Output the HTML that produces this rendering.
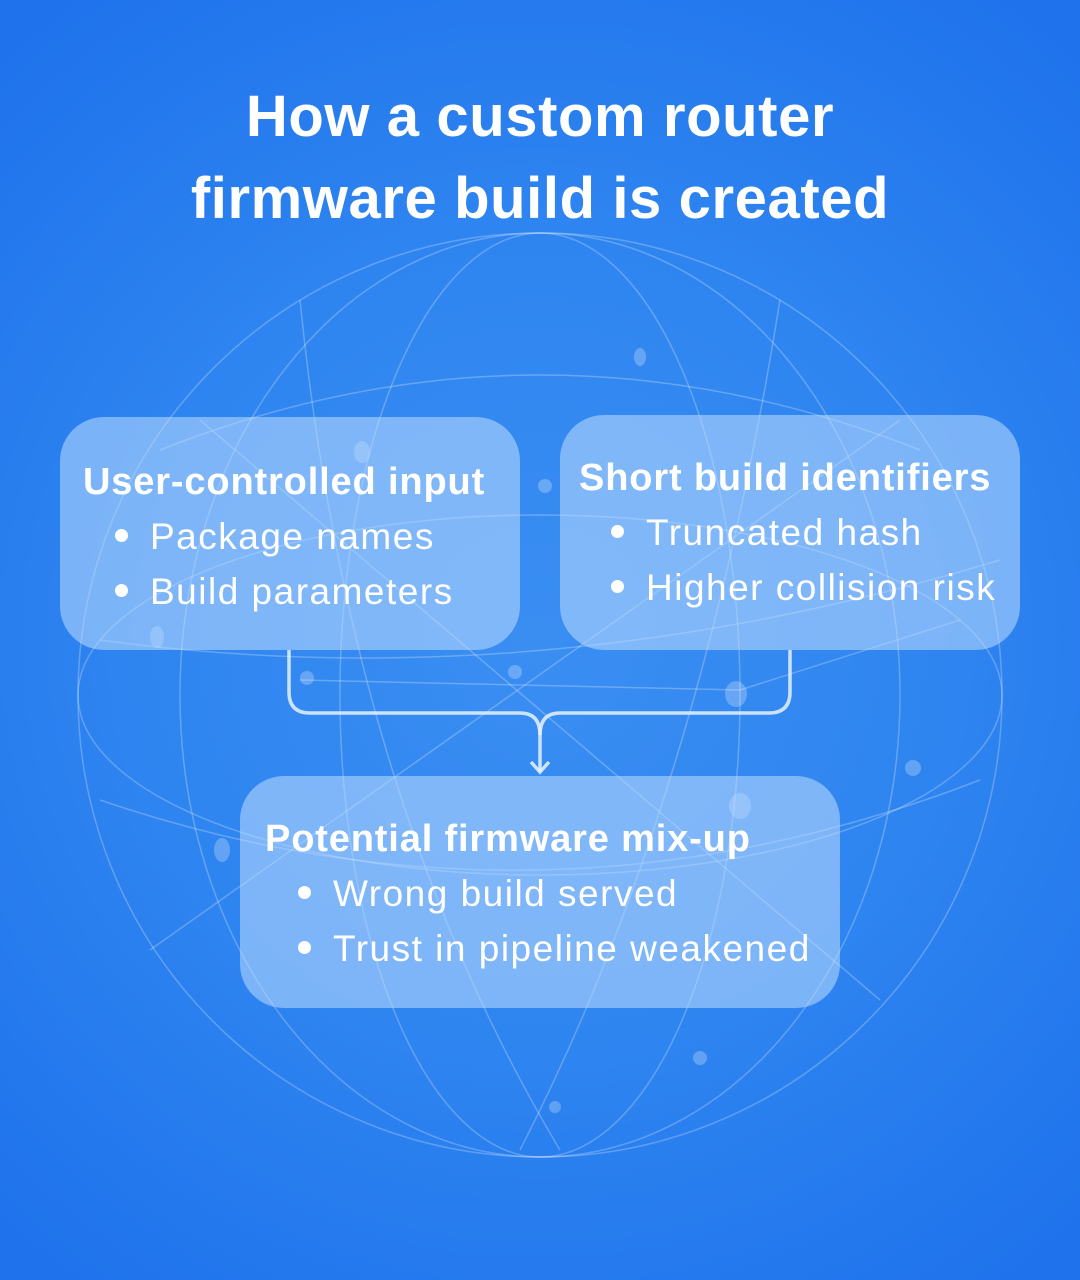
<!DOCTYPE html>
<html><head><meta charset="utf-8"><style>
html,body{margin:0;padding:0}
body{width:1080px;height:1280px;position:relative;overflow:hidden;font-family:"Liberation Sans",sans-serif;
background:radial-gradient(circle at 540px 640px,#3a8ef2 0,#2f85f0 400px,#1f72ec 800px);}
h1{position:absolute;top:76px;left:0;width:1080px;margin:0;text-align:center;color:#fff;font-size:58px;letter-spacing:0.6px;line-height:82px;font-weight:bold}
.box{position:absolute;background:rgba(190,220,255,0.55);border-radius:44px;color:#fff}
.box .t{position:absolute;font-weight:bold;font-size:38px;letter-spacing:0.85px;white-space:nowrap}
.box ul{position:absolute;margin:0;padding:0;list-style:none;font-size:37px;letter-spacing:1.5px;line-height:55px;white-space:nowrap}
.box li:before{content:"";display:inline-block;width:13px;height:13px;border-radius:50%;background:#fff;margin-right:22px;vertical-align:middle;position:relative;top:-4px}
svg{position:absolute;left:0;top:0}
</style></head><body>
<svg width="1080" height="1280">
<g fill="none" stroke="rgba(255,255,255,0.25)" stroke-width="1.5">
<circle cx="540" cy="695" r="462"/>
<ellipse cx="540" cy="695" rx="462" ry="180"/>
<ellipse cx="540" cy="695" rx="200" ry="462"/>
<ellipse cx="540" cy="695" rx="360" ry="462"/>
<path d="M160 450 Q540 300 920 450"/><path d="M100 800 Q540 950 980 780"/>
<path d="M150 950 L900 420"/><path d="M200 420 L880 1000"/>
<path d="M300 300 Q350 800 560 1150"/><path d="M780 300 Q700 800 520 1150"/>
<path d="M100 640 Q540 700 1000 560"/><path d="M300 680 L740 690 L960 620"/>
</g>
<g fill="rgba(255,255,255,0.25)">
<circle cx="307" cy="678" r="7"/><circle cx="515" cy="672" r="7"/><ellipse cx="736" cy="694" rx="11" ry="13"/>
<ellipse cx="740" cy="806" rx="11" ry="13"/><circle cx="913" cy="768" r="8"/><circle cx="545" cy="486" r="7"/>
<ellipse cx="222" cy="850" rx="8" ry="12"/><ellipse cx="640" cy="357" rx="6" ry="9"/><circle cx="700" cy="1058" r="7"/>
<circle cx="555" cy="1107" r="6"/><ellipse cx="157" cy="637" rx="7" ry="11"/><ellipse cx="362" cy="452" rx="8" ry="11"/>
</g>
<g fill="none" stroke="rgba(230,242,255,0.85)" stroke-width="3.5">
<path d="M289 650 V692 Q289 713 310 713 H520 Q540 713 540 735 V772"/>
<path d="M790 650 V692 Q790 713 769 713 H560 Q540 713 540 735"/>
<path d="M531 762 L540 772 L549 762"/>
</g>
</svg>
<h1>How a custom router<br>firmware build is created</h1>
<div class="box" style="left:60px;top:417px;width:460px;height:233px">
<div class="t" style="left:23px;top:44px">User-controlled input</div>
<ul style="left:55px;top:92px"><li>Package names</li><li>Build parameters</li></ul></div>
<div class="box" style="left:560px;top:415px;width:460px;height:235px">
<div class="t" style="left:19px;top:42px">Short build identifiers</div>
<ul style="left:51px;top:90px"><li>Truncated hash</li><li>Higher collision risk</li></ul></div>
<div class="box" style="left:240px;top:776px;width:600px;height:232px">
<div class="t" style="left:25px;top:42px">Potential firmware mix-up</div>
<ul style="left:58px;top:90px"><li>Wrong build served</li><li>Trust in pipeline weakened</li></ul></div>
</body></html>
